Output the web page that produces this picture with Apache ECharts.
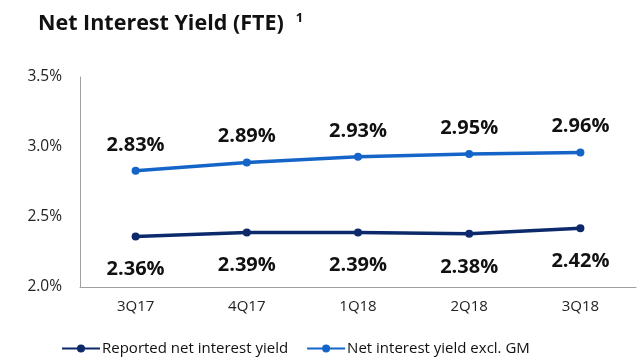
<!DOCTYPE html>
<html><head><meta charset="utf-8">
<script src="https://cdn.jsdelivr.net/npm/echarts@6/dist/echarts.min.js"></script>
<style>html,body{margin:0;padding:0;background:#fff}#c{width:640px;height:361px}</style>
</head><body><div id="c"></div>
<script>
var categories = ['3Q17','4Q17','1Q18','2Q18','3Q18'];
var reported = [2.36, 2.39, 2.39, 2.38, 2.42];
var exclGM = [2.83, 2.89, 2.93, 2.95, 2.96];
var yTicks = [2.0, 2.5, 3.0, 3.5];
var FONT = '"Open Sans", "Liberation Sans", sans-serif';
var chart = echarts.init(document.getElementById('c'));
chart.setOption({
  animation: false,
  title: {
    text: '{t|Net Interest Yield (FTE)}{s|1}',
    left: 33, top: 7,
    textStyle: {
      rich: {
        t: {fontFamily: FONT, fontSize: 21.5, fontWeight: 'bold', color: '#111', verticalAlign: 'bottom'},
        s: {fontFamily: FONT, fontSize: 13, fontWeight: 'bold', color: '#111', verticalAlign: 'top', padding: [0, 0, 10, 12]}
      }
    }
  },
  legend: {
    bottom: 0, left: 56, itemGap: 18, itemWidth: 38, itemHeight: 10,
    textStyle: {fontFamily: FONT, fontSize: 15, color: '#111', padding: [0, 0, 0, -3]},
    data: ['Reported net interest yield', 'Net interest yield excl. GM']
  },
  grid: {left: 80, right: 4, top: 77, bottom: 74},
  xAxis: {
    type: 'category', data: categories, boundaryGap: true,
    axisLine: {lineStyle: {color: '#a0a0a0', width: 1}},
    axisTick: {show: false},
    axisLabel: {fontFamily: FONT, fontSize: 15, color: '#222', margin: 12}
  },
  yAxis: {
    type: 'value', min: yTicks[0], max: yTicks[yTicks.length-1], interval: 0.5,
    axisLine: {show: true, lineStyle: {color: '#a0a0a0', width: 1}},
    axisTick: {show: false},
    splitLine: {show: false},
    axisLabel: {fontFamily: FONT, fontSize: 15.5, color: '#222', margin: 18,
      formatter: function(v){ return v.toFixed(1) + '%'; }}
  },
  series: [{
    name: 'Reported net interest yield', type: 'line', data: reported,
    symbol: 'circle', symbolSize: 8,
    itemStyle: {color: '#0c2a6b'}, lineStyle: {color: '#0c2a6b', width: 3.5},
    label: {show: true, position: 'bottom', distance: 19, fontFamily: FONT, fontSize: 20, fontWeight: 'bold', color: '#111',
      formatter: function(p){ return p.value.toFixed(2) + '%'; }}
  }, {
    name: 'Net interest yield excl. GM', type: 'line', data: exclGM,
    symbol: 'circle', symbolSize: 8,
    itemStyle: {color: '#1565c8'}, lineStyle: {color: '#1565c8', width: 3.5},
    label: {show: true, position: 'top', distance: 12, fontFamily: FONT, fontSize: 20, fontWeight: 'bold', color: '#111',
      formatter: function(p){ return p.value.toFixed(2) + '%'; }}
  }]
});
</script></body></html>
